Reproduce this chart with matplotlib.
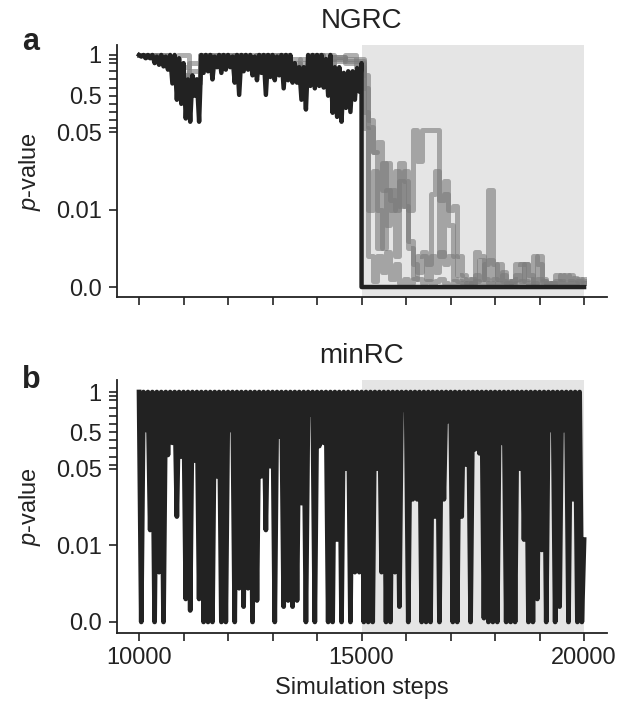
import numpy as np
import matplotlib
matplotlib.use("Agg")
import matplotlib.pyplot as plt

plt.rcParams["font.family"] = ["Liberation Sans", "DejaVu Sans"]
plt.rcParams["mathtext.fontset"] = "custom"
plt.rcParams["mathtext.it"] = "Liberation Sans:italic"
plt.rcParams["mathtext.rm"] = "Liberation Sans"

# ================= data =================
# NGRC black run: values at 10000,10100,...,15000 (tops) and the dips in between
ngrc_tops = [1, 1, 1, 1, 0.98, 1, 0.98, 1, 1, 0.96,
             0.9, 0.7, 0.75, 0.7, 1, 1, 1, 0.98, 1, 1,
             1, 0.98, 1, 1, 1, 1, 0.98, 1, 1, 1,
             1, 0.98, 1, 1, 1, 0.9, 0.85, 0.85, 1, 1,
             1, 1, 0.95, 1, 0.85, 0.85, 0.78, 0.8, 0.8, 0.84,
             0.9]
ngrc_dips = [0.98, 0.96, 0.96, 0.9, 0.88, 0.86, 0.82, 0.65, 0.45, 0.4,
             0.22, 0.18, 0.5, 0.18, 0.78, 0.8, 0.7, 0.85, 0.78, 0.82,
             0.85, 0.66, 0.51, 0.8, 0.82, 0.75, 0.69, 0.78, 0.51, 0.73,
             0.69, 0.75, 0.59, 0.69, 0.66, 0.66, 0.45, 0.33, 0.62, 0.59,
             0.62, 0.6, 0.5, 0.29, 0.24, 0.18, 0.35, 0.3, 0.45, 0.55]
ngrc_after_steps = [15000, 20000]
ngrc_after = [0.0, 0.0]

# NGRC gray runs: every 250 steps up to 15000, every 100 steps after
gray_steps = np.concatenate([np.arange(10000, 15001, 250), np.arange(15100, 20001, 100)])
gray_1 = [1, 1, 0.95, 0.9, 0.75, 0.66, 0.95, 1, 0.97, 1, 0.95, 1, 0.97, 0.92, 0.85, 0.8, 0.95, 0.9, 0.92, 0.95, 0.95,
          0.6, 0.2, 0.04, 0.045, 0.02, 0.034, 0.015, 0.01, 0.034, 0.025,
          0.01, 0.08, 0.035, 0.08, 0.08, 0.075, 0.08, 0.004, 0.018, 0.008,
          0.004, 0.0015, 0.001, 0.0005, 0.001, 0.0008, 0.0035, 0.001, 0.0035, 0.001,
          0.0005, 0.0015, 0.0008, 0.0005, 0.001, 0.003, 0.003, 0.001, 0.0005, 0.004,
          0.001, 0.0005, 0.0003, 0.0015, 0.001, 0.0015, 0.001, 0.0012, 0.0008, 0.001]
gray_2 = [1, 0.97, 1, 0.85, 0.66, 0.8, 1, 0.95, 1, 0.9, 1, 0.95, 1, 0.88, 0.95, 0.9, 1, 0.95, 0.97, 0.9, 0.9,
          0.3, 0.01, 0.03, 0.005, 0.034, 0.008, 0.02, 0.004, 0.025, 0.012,
          0.006, 0.003, 0.002, 0.004, 0.003, 0.018, 0.03, 0.015, 0.025, 0.01,
          0.012, 0.004, 0.0015, 0.001, 0.0005, 0.0015, 0.001, 0.003, 0.02, 0.003,
          0.001, 0.002, 0.0005, 0.0008, 0.0015, 0.0008, 0.003, 0.0015, 0.0005, 0.001,
          0.0008, 0.0003, 0.0005, 0.0003, 0.0008, 0.0005, 0.0015, 0.0005, 0.001, 0.0008]
gray_3 = [1, 1, 0.97, 0.92, 1, 0.7, 0.9, 1, 0.92, 1, 0.97, 0.92, 1, 1, 0.8, 0.95, 0.92, 1, 0.95, 1, 0.85,
          0.1, 0.004, 0.0008, 0.004, 0.002, 0.0045, 0.001, 0.003, 0.0005, 0.001,
          0.0005, 0.001, 0.004, 0.0045, 0.001, 0.004, 0.002, 0.0045, 0.003, 0.004,
          0.001, 0.0008, 0.0005, 0.0003, 0.0005, 0.0045, 0.004, 0.001, 0.0005, 0.0003,
          0.0005, 0.0003, 0.0005, 0.0008, 0.003, 0.003, 0.0008, 0.0003, 0.0005, 0.0003,
          0.0008, 0.0005, 0.0003, 0.0005, 0.0015, 0.0003, 0.0005, 0.0003, 0.0008, 0.0005]
gray_4 = [1, 0.98, 1, 0.95, 0.85, 0.9, 1, 0.9, 1, 0.95, 0.9, 1, 0.95, 1, 0.9, 0.85, 1, 0.88, 0.98, 0.92, 0.92,
          0.75, 0.12, 0.04, 0.01, 0.005, 0.02, 0.01, 0.03, 0.012, 0.03,
          0.005, 0.0012, 0.001, 0.0005, 0.0008, 0.0003, 0.0008, 0.001, 0.0005, 0.0003,
          0.0008, 0.0005, 0.0003, 0.0005, 0.0003, 0.0008, 0.0005, 0.0003, 0.0005, 0.001,
          0.003, 0.0008, 0.0005, 0.0003, 0.0005, 0.0008, 0.0005, 0.0003, 0.004, 0.003,
          0.0005, 0.0003, 0.0005, 0.0008, 0.0005, 0.0003, 0.0008, 0.0005, 0.0003, 0.0005]

# minRC: back at 1 every 100 steps, dips at 10050, 10150, ..., 19950
minrc_top = 1.0
minrc_last = 0.013
minrc_dips = [0, 0.53, 0.018, 0, 0.0065, 0, 0.22, 0.37, 0.025, 0.2,
              0.003, 0.0015, 0.15, 0.003, 0, 0, 0, 0.046, 0, 0,
              0.53, 0, 0.0044, 0.002, 0.0044, 0, 0.0028, 0.046, 0.018, 0.08,
              0, 0.45, 0.002, 0.0028, 0.002, 0.0028, 0.032, 0, 0.72, 0,
              0.33, 0.37, 0, 0, 0.013, 0, 0.05, 0, 0.0065, 0.0065,
              0, 0, 0, 0.05, 0.0065, 0, 0, 0.0065, 0.002, 0.78,
              0, 0.034, 0.034, 0, 0, 0, 0.025, 0, 0.034, 0.64,
              0, 0, 0.025, 0.1, 0, 0.29, 0.24, 0.0005, 0, 0,
              0, 0.37, 0, 0, 0, 0.05, 0.013, 0, 0, 0.003,
              0.0094, 0, 0.53, 0, 0.002, 0.53, 0, 0.034, 0, 0]

shade_span = (15000, 20000)
ytick_vals = [0, 0.01, 0.05, 0.5, 1]
ytick_labels = ["0.0", "0.01", "0.05", "0.5", "1"]
yminor_vals = [0.1, 0.2, 0.3, 0.4, 0.6, 0.7, 0.8, 0.9, 0.95]
xtick_vals = list(range(10000, 20001, 1000))
xtick_labels = ["10000", "", "", "", "", "15000", "", "", "", "", "20000"]


# ================= piecewise p-value axis =================
def fwd(p):
    p = np.asarray(p, float)
    return np.where(p < 0.01, p / 0.01,
                    np.where(p < 0.05, 1 + (p - 0.01) / 0.04, 2 + (p - 0.05) / 0.95))


def inv(t):
    t = np.asarray(t, float)
    return np.where(t < 1, t * 0.01,
                    np.where(t < 2, 0.01 + (t - 1) * 0.04, 0.05 + (t - 2) * 0.95))


def interleave(tops, dips):
    vals = []
    for i, d in enumerate(dips):
        vals += [tops[i], d]
    vals.append(tops[-1])
    return vals


INK = "#222222"


def style_axis(ax, ylim, show_xlabels):
    ax.set_yscale("function", functions=(fwd, inv))
    ax.set_ylim(*ylim)
    ax.set_xlim(9505, 20515)
    ax.set_yticks(ytick_vals)
    ax.set_yticklabels(ytick_labels)
    ax.set_yticks(yminor_vals, minor=True)
    ax.set_xticks(xtick_vals)
    ax.set_xticklabels(xtick_labels if show_xlabels else [""] * len(xtick_vals))
    ax.axvspan(*shade_span, color="#e5e5e5", lw=0, zorder=0)
    for s in ["top", "right"]:
        ax.spines[s].set_visible(False)
    for s in ["left", "bottom"]:
        ax.spines[s].set_linewidth(1.3)
        ax.spines[s].set_color(INK)
    ax.tick_params(which="both", direction="out", length=6, width=1.2,
                   color=INK, labelcolor=INK, labelsize=17)
    ax.tick_params(axis="y", pad=5)
    ax.tick_params(axis="x", pad=4)
    ax.set_ylabel("$p$-value", fontsize=17, color=INK, labelpad=9)


fig = plt.figure(figsize=(6.21, 7.15), dpi=100)
ax_a = fig.add_axes([117 / 621, 1 - 297 / 715, 490 / 621, 252 / 715])
ax_b = fig.add_axes([117 / 621, 1 - 633 / 715, 490 / 621, 253 / 715])

# ---- a: NGRC ----
for g in [gray_1, gray_2, gray_3, gray_4]:
    ax_a.plot(gray_steps, g, color="#7a7a7a", alpha=0.6, lw=3.6, zorder=2,
              drawstyle="steps-mid")
black_steps = list(np.arange(10000, 15001, 50)) + ngrc_after_steps
black_vals = interleave(ngrc_tops, ngrc_dips) + ngrc_after
ax_a.plot(black_steps, black_vals, color=INK, lw=3.2, zorder=3)
style_axis(ax_a, (-0.00129, 1.1226), False)
ax_a.set_title("NGRC", fontsize=20, color=INK, pad=12)

# ---- b: minRC ----
minrc_steps = np.arange(10000, 20001, 50)
minrc_vals = interleave([minrc_top] * len(minrc_dips) + [minrc_last], minrc_dips)
ax_b.plot(minrc_steps, minrc_vals, color=INK, lw=3.4, zorder=3)
style_axis(ax_b, (-0.00144, 1.149), True)
ax_b.set_title("minRC", fontsize=20, color=INK, pad=12)
ax_b.set_xlabel("Simulation steps", fontsize=17, color=INK, labelpad=6)

fig.text(22 / 621, 1 - 50 / 715, "a", fontsize=22, fontweight="bold", color=INK)
fig.text(22 / 621, 1 - 388 / 715, "b", fontsize=22, fontweight="bold", color=INK)

fig.savefig("out.png", dpi=100)
